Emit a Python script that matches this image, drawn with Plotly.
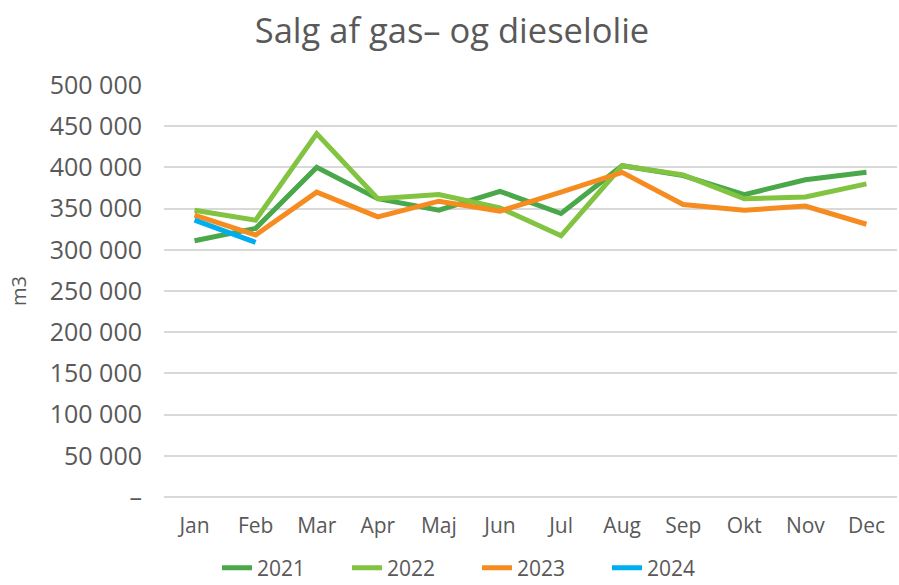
import plotly.graph_objects as go

months = ["Jan", "Feb", "Mar", "Apr", "Maj", "Jun", "Jul", "Aug", "Sep", "Okt", "Nov", "Dec"]
s2021 = [311000, 326000, 400000, 362000, 348000, 371000, 344000, 402000, 390000, 367000, 385000, 394000]
s2022 = [348000, 336000, 441000, 362000, 367000, 351000, 317000, 402000, 391000, 362000, 364000, 380000]
s2023 = [342000, 318000, 370000, 340000, 359000, 347000, 370000, 394000, 355000, 348000, 353000, 331000]
s2024 = [336000, 309000]

tick_vals = [0, 50000, 100000, 150000, 200000, 250000, 300000, 350000, 400000, 450000, 500000]
tick_text = ["–", "50 000", "100 000", "150 000", "200 000", "250 000", "300 000",
             "350 000", "400 000", "450 000", "500 000"]

series = [
    ("2021", s2021, "#4AA84A"),
    ("2022", s2022, "#82C341"),
    ("2023", s2023, "#F68B1F"),
    ("2024", s2024, "#00AEEF"),
]

fig = go.Figure()
for name, vals, color in series:
    fig.add_trace(go.Scatter(
        x=months[:len(vals)], y=vals, name=name, mode="lines",
        line=dict(color=color, width=5, shape="linear"),
    ))

font_family = "'Open Sans', Lato, sans-serif"
L, R, T, B = 164, 2, 85, 88
pw = 899 - L - R
ph = 585 - T - B

fig.update_layout(
    width=899, height=585,
    paper_bgcolor="white", plot_bgcolor="white",
    margin=dict(l=L, r=R, t=T, b=B, autoexpand=False),
    title=dict(text="Salg af gas– og dieselolie", x=(452) / 899, xanchor="center",
               xref="container", yref="container",
               y=1 - 31 / 585, yanchor="middle",
               font=dict(family=font_family, size=34.5, color="#595959")),
    font=dict(family=font_family, color="#595959", size=22),
    showlegend=True,
    legend=dict(orientation="h", xref="container", x=217 / 899, xanchor="left",
                yref="paper", y=-(568 - 497) / ph, yanchor="middle",
                font=dict(size=21, color="#595959"),
                entrywidth=85, entrywidthmode="pixels",
                traceorder="normal", tracegroupgap=0),
    xaxis=dict(type="category", categoryorder="array", categoryarray=months,
               showgrid=False, showline=False, zeroline=False, automargin=False,
               ticks="", ticklabelstandoff=14, tickfont=dict(size=21, color="#595959"),
               range=[-0.5, 11.5]),
    yaxis=dict(range=[0, 500000], tickvals=tick_vals, ticktext=tick_text,
               showgrid=True, gridcolor="#D9D9D9", gridwidth=1.5, automargin=False,
               zeroline=True, zerolinecolor="#D9D9D9", zerolinewidth=1.5,
               showline=False, ticks="", ticklabelstandoff=21,
               tickfont=dict(size=25, color="#595959")),
    annotations=[dict(text="m3", textangle=-90, xref="paper", yref="paper",
                      x=(18 - L) / pw, y=0.5, xanchor="center", yanchor="middle",
                      showarrow=False, font=dict(size=20, color="#595959"))],
)

fig.write_html("out.html", config={"displayModeBar": False},
               post_script="document.body.style.margin='0';document.body.style.overflow='hidden';")
